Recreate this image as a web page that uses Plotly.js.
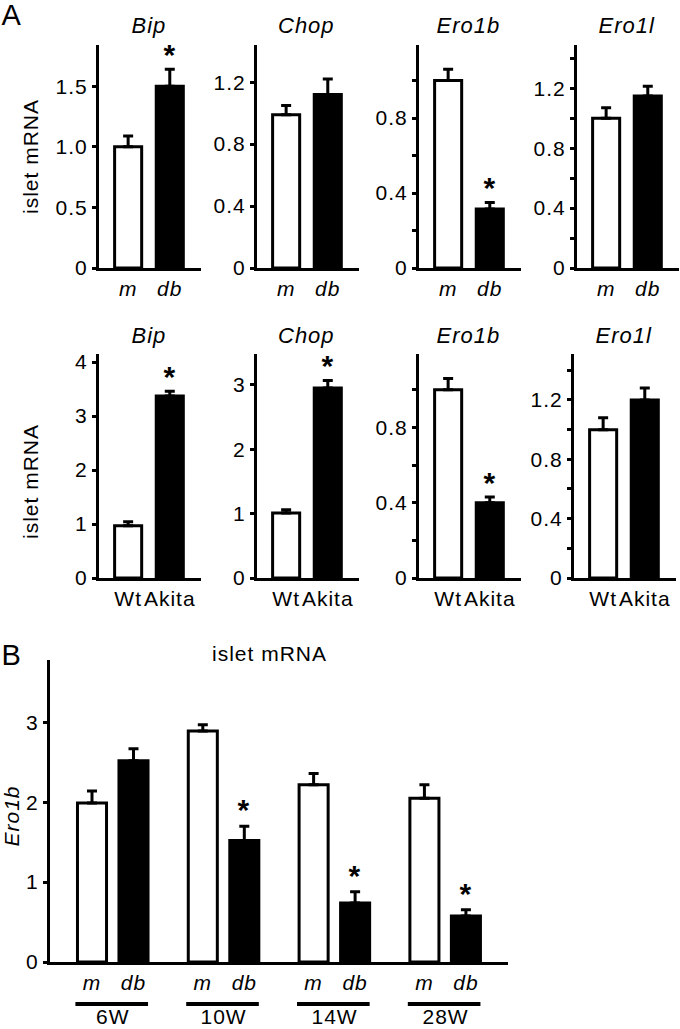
<!DOCTYPE html>
<html><head><meta charset="utf-8">
<script src="https://cdn.plot.ly/plotly-3.0.1.min.js"></script>
<style>
html,body{margin:0;padding:0;background:#fff;}
#chart{width:680px;height:1029px;}
#chart svg text{letter-spacing:1px;}
</style></head><body><div id="chart"></div>
<script>
// ---- Panel A, top row: m vs db islets ----
const genes = ["Bip", "Chop", "Ero1b", "Ero1l"];
const dbGroups = ["m", "db"];
const dbControlMean = [1.00, 0.99, 1.00, 1.00];
const dbControlErr  = [0.09, 0.06, 0.06, 0.07];
const dbMutantMean  = [1.50, 1.12, 0.315, 1.15];
const dbMutantErr   = [0.14, 0.10, 0.035, 0.065];
const dbStar        = [true, false, true, false];

// ---- Panel A, bottom row: Wt vs Akita islets ----
const akitaGroups = ["Wt", "Akita"];
const akitaControlMean = [0.97, 1.01, 1.00, 1.00];
const akitaControlErr  = [0.07, 0.05, 0.06, 0.08];
const akitaMutantMean  = [3.37, 2.95, 0.40, 1.20];
const akitaMutantErr   = [0.09, 0.12, 0.03, 0.08];
const akitaStar        = [true, true, true, false];

// ---- Panel B: Ero1b over age ----
const weeks = ["6W", "10W", "14W", "28W"];
const bGroups = ["m", "db"];
const bControlMean = [1.99, 2.89, 2.22, 2.05];
const bControlErr  = [0.15, 0.08, 0.14, 0.17];
const bMutantMean  = [2.52, 1.52, 0.74, 0.575];
const bMutantErr   = [0.15, 0.18, 0.14, 0.08];
const bStar        = [false, true, true, true];

// ---- tick labels ----
const dbTickVals = [[0, 0.5, 1.0, 1.5], [0, 0.4, 0.8, 1.2], [0, 0.2, 0.4, 0.6, 0.8, 1.0], [0, 0.2, 0.4, 0.6, 0.8, 1.0, 1.2, 1.4]];
const dbTickText = [["0", "0.5", "1.0", "1.5"], ["0", "0.4", "0.8", "1.2"], ["0", "", "0.4", "", "0.8", ""], ["0", "", "0.4", "", "0.8", "", "1.2", ""]];
const akitaTickVals = [[0, 1, 2, 3, 4], [0, 1, 2, 3], [0, 0.2, 0.4, 0.6, 0.8, 1.0], [0, 0.2, 0.4, 0.6, 0.8, 1.0, 1.2, 1.4]];
const akitaTickText = [["0", "1", "2", "3", "4"], ["0", "1", "2", "3"], ["0", "", "0.4", "", "0.8", ""], ["0", "", "0.4", "", "0.8", "", "1.2", ""]];
const bTickVals = [0, 1, 2, 3];
const bTickText = ["0", "1", "2", "3"];

// ---- geometry (layout only) ----
const W = 680, H = 1029;
const FONT = "Liberation Sans, Arial, Helvetica, sans-serif";
const FS = 21;
const px = v => v / W;
const py = v => 1 - v / H;
const rows = [
  {top: 45, bottom: 268, titleY: 25, ytitleY: 157, lefts: [99, 257, 419, 577], ymax: [1.84, 1.44, 1.19, 1.49]},
  {top: 354, bottom: 578, titleY: 335, ytitleY: 482, lefts: [99, 257, 419, 574], ymax: [4.15, 3.48, 1.19, 1.51]}
];
const colWidth = 102;
const XR = [-0.70, 1.75];
const GAP = 2.67;

const traces = [];
const annotations = [];
const shapes = [];
const layout = {
  width: W, height: H,
  margin: {l: 0, r: 0, t: 0, b: 0, pad: 0},
  paper_bgcolor: "white", plot_bgcolor: "white",
  showlegend: false,
  font: {family: FONT, size: FS, color: "black"},
  bargap: 0
};

function axisCommon() {
  return {showline: true, linewidth: 3, linecolor: "black", showgrid: false, zeroline: false,
          fixedrange: true, tickfont: {family: FONT, size: FS, color: "black"}};
}

function addPanel(n, left, top, bottom, ymax, groups, italic, ctrlM, ctrlE, mutM, mutE, star, tv, tt, title, titleY) {
  const xa = n === 1 ? "xaxis" : "xaxis" + n;
  const ya = n === 1 ? "yaxis" : "yaxis" + n;
  const xid = n === 1 ? "x" : "x" + n;
  const yid = n === 1 ? "y" : "y" + n;
  const fmt = s => italic ? "<i>" + s + "</i>" : s;
  layout[xa] = Object.assign(axisCommon(), {
    domain: [px(left), px(left + colWidth)], range: XR, anchor: yid,
    ticks: "", tickvals: [0, 1], ticktext: groups.map(fmt)
  });
  layout[ya] = Object.assign(axisCommon(), {
    domain: [py(bottom), py(top)], range: [0, ymax], anchor: xid,
    ticks: "outside", ticklen: 4, tickwidth: 3, tickcolor: "black",
    tickvals: tv, ticktext: tt
  });
  const oid = n + 9;
  layout["yaxis" + oid] = {
    overlaying: yid, anchor: xid, side: "left", range: [0, ymax],
    ticks: "inside", ticklen: 4, tickwidth: 3, tickcolor: "black",
    tickvals: tv, showticklabels: false, showline: false, showgrid: false, zeroline: false, fixedrange: true
  };
  traces.push({
    type: "bar", xaxis: xid, yaxis: yid,
    x: [0, 1], y: [ctrlM, mutM], width: 0.65,
    marker: {color: ["white", "black"], line: {color: "black", width: 3}},
    error_y: {type: "data", symmetric: false, array: [ctrlE, mutE], arrayminus: [0, 0],
              color: "black", thickness: 3, width: 5},
    hoverinfo: "skip"
  });
  if (star) {
    annotations.push({xref: xid, yref: yid, x: 1, y: mutM + mutE, text: "<b>*</b>", showarrow: false,
      yanchor: "bottom", yshift: -4, font: {family: FONT, size: 30, color: "black"}});
  }
  annotations.push({xref: xid, yref: "paper", x: 0.5, y: py(titleY), text: "<i>" + title + "</i>",
    showarrow: false, yanchor: "middle", font: {family: FONT, size: 22, color: "black"}});
}

genes.forEach((g, i) => {
  addPanel(i + 1, rows[0].lefts[i], rows[0].top, rows[0].bottom, rows[0].ymax[i], dbGroups, true,
    dbControlMean[i], dbControlErr[i], dbMutantMean[i], dbMutantErr[i], dbStar[i],
    dbTickVals[i], dbTickText[i], g, rows[0].titleY);
  addPanel(i + 5, rows[1].lefts[i], rows[1].top, rows[1].bottom, rows[1].ymax[i], akitaGroups, false,
    akitaControlMean[i], akitaControlErr[i], akitaMutantMean[i], akitaMutantErr[i], akitaStar[i],
    akitaTickVals[i], akitaTickText[i], g, rows[1].titleY);
});

rows.forEach(r => {
  annotations.push({xref: "paper", yref: "paper", x: px(30), y: py(r.ytitleY), text: "islet mRNA",
    textangle: -90, showarrow: false, xanchor: "center", yanchor: "middle",
    font: {family: FONT, size: 21, color: "black"}});
});

// ---- Panel B ----
const bTop = 660, bBottom = 962, bLeft = 50, bRight = 508, bYMax = 3.78;
const bx0 = (bLeft - 92) / 41.5, bx1 = (bRight - 92) / 41.5;
layout.xaxis9 = Object.assign(axisCommon(), {
  domain: [px(bLeft), px(bRight)], range: [bx0, bx1], anchor: "y9", ticks: "",
  tickvals: weeks.flatMap((w, g) => [g * GAP, g * GAP + 1]),
  ticktext: weeks.flatMap(() => bGroups.map(s => "<i>" + s + "</i>"))
});
layout.yaxis9 = Object.assign(axisCommon(), {
  domain: [py(bBottom), py(bTop)], range: [0, bYMax], anchor: "x9",
  ticks: "outside", ticklen: 4, tickwidth: 3, tickcolor: "black",
  tickvals: bTickVals, ticktext: bTickText
});
layout.yaxis18 = {
  overlaying: "y9", anchor: "x9", side: "left", range: [0, bYMax],
  ticks: "inside", ticklen: 4, tickwidth: 3, tickcolor: "black",
  tickvals: bTickVals, showticklabels: false, showline: false, showgrid: false, zeroline: false, fixedrange: true
};
traces.push({
  type: "bar", xaxis: "x9", yaxis: "y9", x: weeks.map((w, g) => g * GAP), y: bControlMean, width: 0.70,
  marker: {color: "white", line: {color: "black", width: 3}},
  error_y: {type: "data", symmetric: false, array: bControlErr, arrayminus: bControlErr.map(() => 0),
            color: "black", thickness: 3, width: 5},
  hoverinfo: "skip"
});
traces.push({
  type: "bar", xaxis: "x9", yaxis: "y9", x: weeks.map((w, g) => g * GAP + 1), y: bMutantMean, width: 0.70,
  marker: {color: "black", line: {color: "black", width: 3}},
  error_y: {type: "data", symmetric: false, array: bMutantErr, arrayminus: bMutantErr.map(() => 0),
            color: "black", thickness: 3, width: 5},
  hoverinfo: "skip"
});
weeks.forEach((w, g) => {
  if (bStar[g]) {
    annotations.push({xref: "x9", yref: "y9", x: g * GAP + 1, y: bMutantMean[g] + bMutantErr[g], text: "<b>*</b>",
      showarrow: false, yanchor: "bottom", yshift: -2, font: {family: FONT, size: 30, color: "black"}});
  }
  shapes.push({type: "line", xref: "x9", yref: "paper", x0: g * GAP - 0.4, x1: g * GAP + 1.35,
    y0: py(1004), y1: py(1004), line: {color: "black", width: 4}});
  annotations.push({xref: "x9", yref: "paper", x: g * GAP + 0.5, y: 0, text: w, showarrow: false,
    yanchor: "bottom", borderpad: 0, font: {family: FONT, size: 21, color: "black"}});
});
annotations.push({xref: "paper", yref: "paper", x: px(269), y: py(653), text: "islet mRNA", showarrow: false,
  yanchor: "middle", font: {family: FONT, size: 21, color: "black"}});
annotations.push({xref: "paper", yref: "paper", x: px(11), y: py(816), text: "<i>Ero1b</i>", textangle: -90,
  showarrow: false, xanchor: "center", yanchor: "middle", font: {family: FONT, size: 21, color: "black"}});

// panel letters
annotations.push({xref: "paper", yref: "paper", x: 0, y: py(15), text: "A", showarrow: false,
  xanchor: "left", yanchor: "middle", font: {family: FONT, size: 29, color: "black"}});
annotations.push({xref: "paper", yref: "paper", x: 0, y: py(655), text: "B", showarrow: false,
  xanchor: "left", yanchor: "middle", font: {family: FONT, size: 29, color: "black"}});

layout.annotations = annotations;
layout.shapes = shapes;

Plotly.newPlot("chart", traces, layout, {staticPlot: true, displayModeBar: false});
</script></body></html>
